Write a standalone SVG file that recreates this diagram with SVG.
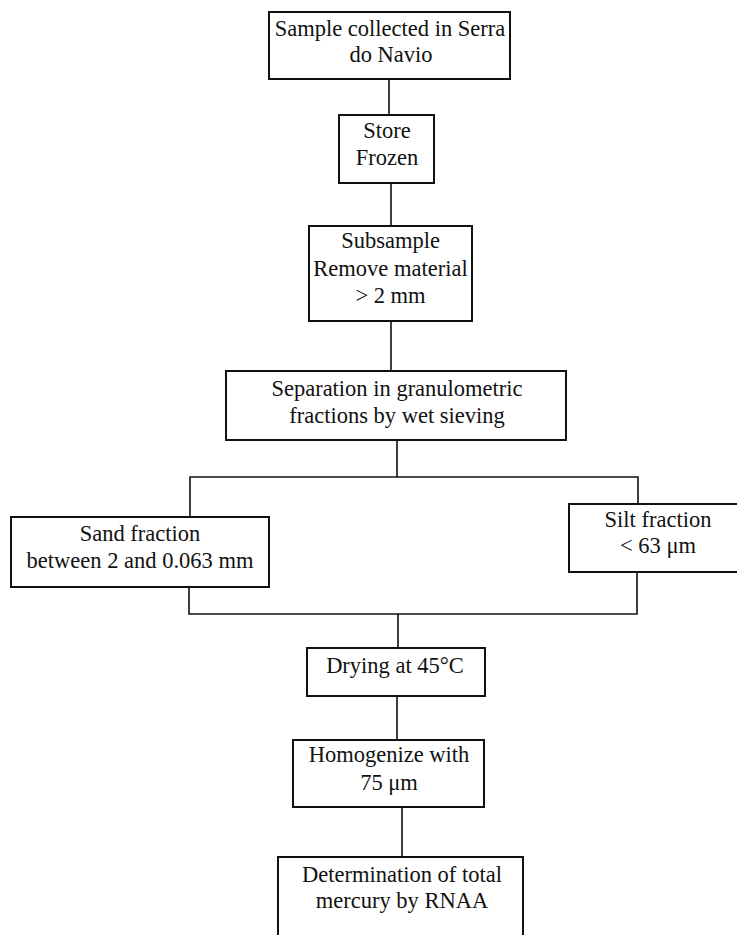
<svg xmlns="http://www.w3.org/2000/svg" width="737" height="935" viewBox="0 0 737 935">
<style>
.box{fill:#fff;stroke:#111;stroke-width:2}
.ln{fill:none;stroke:#111;stroke-width:1.6}
text{font-size:22.5px;fill:#111;text-anchor:middle}
</style>
<rect width="737" height="935" fill="#fff"/>
<g id="connectors">
<path class="ln" d="M389 79V115"/>
<path class="ln" d="M391 183V226"/>
<path class="ln" d="M391 321V371"/>
<path class="ln" d="M397 440V477M190 517V477H638V504"/>
<path class="ln" d="M189 587V614H637V572M398 614V648"/>
<path class="ln" d="M397 696V740"/>
<path class="ln" d="M402 807V857"/>
</g>
<g font-family="Liberation Serif, Times New Roman, serif">
<g id="n1"><rect class="box" x="269" y="12" width="241" height="67"/><text x="390" y="36">Sample collected in Serra</text><text x="391" y="62">do Navio</text></g>
<g id="n2"><rect class="box" x="339" y="115" width="95" height="68"/><text x="387" y="138">Store</text><text x="387" y="165">Frozen</text></g>
<g id="n3"><rect class="box" x="309" y="226" width="163" height="95"/><text x="390.5" y="248">Subsample</text><text x="390.5" y="276">Remove material</text><text x="390.5" y="303">&gt; 2 mm</text></g>
<g id="n4"><rect class="box" x="226" y="371" width="340" height="69"/><text x="397" y="396">Separation in granulometric</text><text x="397" y="423">fractions by wet sieving</text></g>
<g id="n5"><rect class="box" x="11" y="517" width="258" height="70"/><text x="140" y="541">Sand fraction</text><text x="140" y="568">between 2 and 0.063 mm</text></g>
<g id="n6"><rect class="box" x="569" y="504" width="180" height="68"/><text x="658" y="527">Silt fraction</text><text x="658" y="553">&lt; 63 μm</text></g>
<g id="n7"><rect class="box" x="307" y="648" width="178" height="48"/><text x="395" y="673">Drying at 45°C</text></g>
<g id="n8"><rect class="box" x="293" y="740" width="191" height="67"/><text x="389" y="762">Homogenize with</text><text x="389" y="790">75 μm</text></g>
<g id="n9"><rect class="box" x="278" y="857" width="245" height="100"/><text x="402" y="882">Determination of total</text><text x="402" y="908">mercury by RNAA</text></g>
</g>
</svg>
